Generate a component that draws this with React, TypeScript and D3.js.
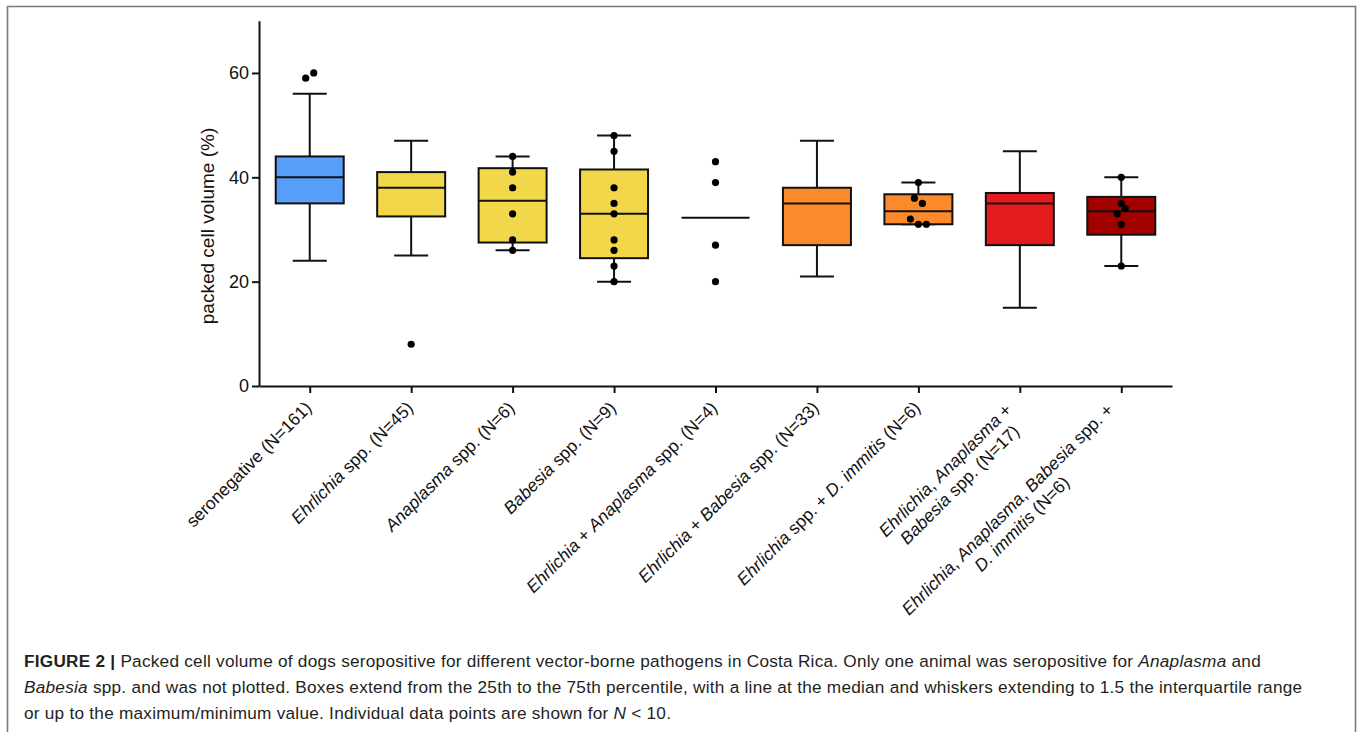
import { useEffect, useRef } from "react";
import * as d3 from "d3";

// group labels, *...* = italic, \n = line break
const categories = [
  "seronegative (N=161)",
  "*Ehrlichia* spp. (N=45)",
  "*Anaplasma* spp. (N=6)",
  "*Babesia* spp. (N=9)",
  "*Ehrlichia* + *Anaplasma* spp. (N=4)",
  "*Ehrlichia* + *Babesia* spp. (N=33)",
  "*Ehrlichia* spp. + *D. immitis* (N=6)",
  "*Ehrlichia*, *Anaplasma* +\n*Babesia* spp. (N=17)",
  "*Ehrlichia*, *Anaplasma*, *Babesia* spp. +\n*D. immitis* (N=6)",
];

// box statistics (null = no box drawn, only a line at the mean)
const whiskerLow = [24, 25, 26, 20, null, 21, 31, 15, 23];
const q1 = [35, 32.5, 27.5, 24.5, null, 27, 31, 27, 29];
const medians = [40, 38, 35.5, 33, null, 35, 33.5, 35, 33.5];
const q3 = [44, 41, 41.75, 41.5, null, 38, 36.75, 37, 36.25];
const whiskerHigh = [56, 47, 44, 48, null, 47, 39, 45, 40];

// individual points / outliers
const points = [
  [59, 60],
  [8],
  [26, 28, 33, 38, 41, 44],
  [20, 23, 26, 28, 33, 35, 38, 45, 48],
  [20, 27, 39, 43],
  [],
  [31, 31, 32, 35, 36, 39],
  [],
  [23, 31, 33, 34, 35, 40],
];

const yTicks = [0, 20, 40, 60];

const boxColors = ["#579ff8", "#f2d74a", "#f2d74a", "#f2d74a", "none", "#fd8a2a", "#fd8a2a", "#e31b1e", "#a30000"];

const captionLines = [
  "**FIGURE 2 |** Packed cell volume of dogs seropositive for different vector-borne pathogens in Costa Rica. Only one animal was seropositive for *Anaplasma* and",
  "*Babesia* spp. and was not plotted. Boxes extend from the 25th to the 75th percentile, with a line at the median and whiskers extending to 1.5 the interquartile range",
  "or up to the maximum/minimum value. Individual data points are shown for *N* < 10.",
];

const W = 1360;
const H = 732;
const FONT = "'Liberation Sans', Arial, Helvetica, sans-serif";

// small horizontal spread so overlapping dots stay visible (units of 4px)
const jitter = [[-1, 1], [0], [], [], [], [], [0, 2, -2, 1, -1, 0], [], [0, 0, -1, 1, 0, 0]];

function addRich(sel: any, str: string) {
  // ** bold, * italic
  const boldParts = str.split("**");
  boldParts.forEach((bp, bi) => {
    bp.split("*").forEach((seg, k) => {
      if (!seg) return;
      sel
        .append("tspan")
        .attr("font-weight", bi % 2 ? "bold" : "normal")
        .attr("font-style", k % 2 ? "italic" : "normal")
        .text(seg);
    });
  });
}

export default function App() {
  const svgRef = useRef<SVGSVGElement>(null);

  useEffect(() => {
    document.body.style.margin = "0";
    const svg = d3.select(svgRef.current);
    svg.selectAll("*").remove();

    const x = d3.scalePoint<number>().domain(d3.range(categories.length)).range([259, 1172]).padding(0.5);
    const y = d3.scaleLinear().domain([0, 70]).range([386, 20.8]);

    // frame
    svg
      .append("path")
      .attr("d", `M7.5,${H + 5}V6.5H1355.5V${H + 5}`)
      .attr("fill", "none")
      .attr("stroke", "#7a7a7a")
      .attr("stroke-width", 1.6);

    const boxW = 68;
    const capW = 34;
    const g = svg.append("g");

    categories.forEach((_, i) => {
      const cx = x(i)!;
      const stroke = "#111";
      if (q1[i] == null) {
        const m = d3.mean(points[i])!;
        g.append("line")
          .attr("x1", cx - boxW / 2).attr("x2", cx + boxW / 2)
          .attr("y1", y(m)).attr("y2", y(m))
          .attr("stroke", stroke).attr("stroke-width", 2);
      } else {
        const lo = whiskerLow[i]!, hi = whiskerHigh[i]!;
        g.append("line")
          .attr("x1", cx).attr("x2", cx).attr("y1", y(lo)).attr("y2", y(hi))
          .attr("stroke", stroke).attr("stroke-width", 2);
        [lo, hi].forEach((v) =>
          g.append("line")
            .attr("x1", cx - capW / 2).attr("x2", cx + capW / 2)
            .attr("y1", y(v)).attr("y2", y(v))
            .attr("stroke", stroke).attr("stroke-width", 2)
        );
        g.append("rect")
          .attr("x", cx - boxW / 2).attr("width", boxW)
          .attr("y", y(q3[i]!)).attr("height", y(q1[i]!) - y(q3[i]!))
          .attr("fill", boxColors[i]).attr("stroke", stroke).attr("stroke-width", 2);
        g.append("line")
          .attr("x1", cx - boxW / 2).attr("x2", cx + boxW / 2)
          .attr("y1", y(medians[i]!)).attr("y2", y(medians[i]!))
          .attr("stroke", stroke).attr("stroke-width", 2);
      }
      g.selectAll(null)
        .data(points[i])
        .join("circle")
        .attr("cx", (_d, k) => cx + ((jitter[i] && jitter[i][k]) || 0) * 4)
        .attr("cy", (d) => y(d))
        .attr("r", 3.6)
        .attr("fill", "#000");
    });

    // axes
    const yAxis = svg
      .append("g")
      .attr("transform", "translate(259,0)")
      .call(d3.axisLeft(y).tickValues(yTicks).tickSize(7).tickSizeOuter(0).tickPadding(3));
    const xAxis = svg
      .append("g")
      .attr("transform", "translate(0,386)")
      .call(d3.axisBottom(x).tickSize(7).tickSizeOuter(0).tickFormat(() => ""));
    [yAxis, xAxis].forEach((a) => {
      a.selectAll("path,line").attr("stroke", "#111").attr("stroke-width", 2);
    });
    yAxis.selectAll("text").attr("font-family", FONT).attr("font-size", 18).attr("fill", "#111");

    // y label
    svg
      .append("text")
      .attr("transform", `translate(214,226) rotate(-90)`)
      .attr("text-anchor", "middle")
      .attr("font-family", FONT)
      .attr("font-size", 19)
      .attr("fill", "#111")
      .text("packed cell volume (%)");

    // rotated category labels
    const lh = 20.5;
    categories.forEach((lab, i) => {
      const cx = x(i)!;
      const lines = lab.split("\n");
      const multi = lines.length > 1;
      const lg = svg
        .append("g")
        .attr("transform", `translate(${cx + (multi ? -7 : 3)},${multi ? 411 : 409}) rotate(-45)`);
      const texts = lines.map((ln, k) => {
        const t = lg
          .append("text")
          .attr("y", k * lh)
          .attr("text-anchor", "end")
          .attr("font-family", FONT)
          .attr("font-size", 17.5)
          .attr("fill", "#111");
        addRich(t, ln);
        return t;
      });
      const widths = texts.map((t) => (t.node() as SVGTextElement).getComputedTextLength());
      const maxW = d3.max(widths)!;
      texts.forEach((t, k) => t.attr("x", -(maxW - widths[k]) / 2));
    });

    // caption
    captionLines.forEach((ln, k) => {
      const t = svg
        .append("text")
        .attr("x", 24)
        .attr("y", 667 + k * 26)
        .attr("font-family", FONT)
        .attr("font-size", 17.2)
        .attr("letter-spacing", 0.25)
        .attr("fill", "#231f20");
      addRich(t, ln);
    });
  }, []);

  return <svg ref={svgRef} width={W} height={H} style={{ display: "block", background: "#fff" }} />;
}
